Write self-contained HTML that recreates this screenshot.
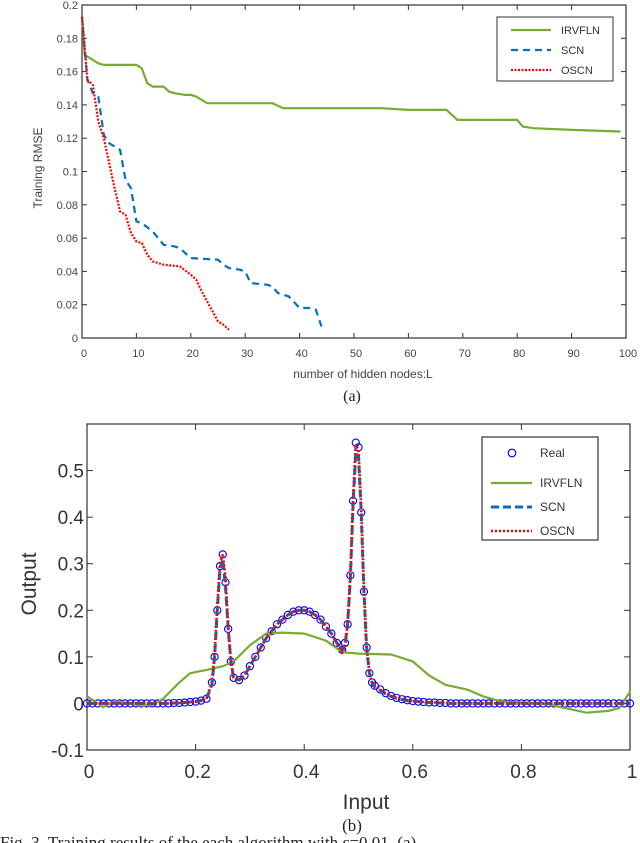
<!DOCTYPE html>
<html><head><meta charset="utf-8"><style>
body{margin:0;background:#fff;width:640px;height:843px;overflow:hidden;font-family:"Liberation Sans",sans-serif}
svg{position:absolute;left:0;top:0}
</style></head><body>
<svg id="c" width="640" height="843" xmlns="http://www.w3.org/2000/svg"></svg>
<script>
// ---- chart (a) data ----
const irvX=[0,0.5,2,3,4,10,11,12,13,15,16,17,19,20,21,23,35,37,55,60,67,68,69,80,81,83,90,99];
const irvY=[0.193,0.17,0.167,0.165,0.164,0.164,0.162,0.153,0.151,0.151,0.148,0.147,0.146,0.146,0.145,0.141,0.141,0.138,0.138,0.137,0.137,0.134,0.131,0.131,0.127,0.126,0.125,0.124];
const scnX=[0,1,2,3,4,5,6,7,8,9,10,11,13,15,17,18,20,25,26,27,29,30,31,34,35,36,38,40,42,43,44];
const scnY=[0.193,0.155,0.147,0.145,0.122,0.117,0.115,0.113,0.095,0.09,0.07,0.069,0.064,0.056,0.055,0.054,0.048,0.047,0.044,0.042,0.041,0.04,0.033,0.032,0.031,0.027,0.025,0.018,0.018,0.017,0.007];
const oscnX=[0,1,2,3,4,5,6,7,8,9,10,11,12,13,15,18,20,21,22,23,24,25,26,27];
const oscnY=[0.193,0.155,0.152,0.13,0.12,0.105,0.09,0.076,0.074,0.063,0.058,0.057,0.05,0.046,0.044,0.043,0.038,0.035,0.028,0.022,0.016,0.01,0.008,0.005];
const aXTicks=[0,10,20,30,40,50,60,70,80,90,100];
const aYTicks=[0,0.02,0.04,0.06,0.08,0.1,0.12,0.14,0.16,0.18,0.2];
// ---- chart (b) data ----
const realX=[0,0.01,0.02,0.03,0.04,0.05,0.06,0.07,0.08,0.09,0.1,0.11,0.12,0.13,0.14,0.15,0.16,0.17,0.18,0.19,0.2,0.21,0.22,0.23,0.235,0.24,0.245,0.25,0.255,0.26,0.265,0.27,0.28,0.29,0.3,0.31,0.32,0.33,0.34,0.35,0.36,0.37,0.38,0.39,0.4,0.41,0.42,0.43,0.44,0.45,0.46,0.47,0.475,0.48,0.485,0.49,0.495,0.5,0.505,0.51,0.515,0.52,0.525,0.53,0.54,0.55,0.56,0.57,0.58,0.59,0.6,0.61,0.62,0.63,0.64,0.65,0.66,0.67,0.68,0.69,0.7,0.71,0.72,0.73,0.74,0.75,0.76,0.77,0.78,0.79,0.8,0.81,0.82,0.83,0.84,0.85,0.86,0.87,0.88,0.89,0.9,0.91,0.92,0.93,0.94,0.95,0.96,0.97,0.98,0.99,1];
const realY=[0,0,0,0,0,0,0,0,0,0,0,0,0,0,0,0,0.001,0.001,0.002,0.003,0.004,0.006,0.01,0.045,0.1,0.2,0.295,0.32,0.26,0.16,0.09,0.055,0.05,0.06,0.08,0.1,0.12,0.14,0.155,0.17,0.18,0.19,0.197,0.2,0.2,0.197,0.19,0.18,0.165,0.15,0.13,0.115,0.13,0.17,0.275,0.435,0.56,0.55,0.41,0.24,0.12,0.065,0.045,0.038,0.03,0.022,0.016,0.012,0.009,0.007,0.005,0.004,0.003,0.002,0.002,0.001,0.001,0,0,0,0,0,0,0,0,0,0,0,0,0,0,0,0,0,0,0,0,0,0,0,0,0,0,0,0,0,0,0,0,0,0];
const scnYb=[0,0,0,0,0,0,0,0,0,0,0,0,0,0,0,0,0.001,0.001,0.002,0.003,0.004,0.006,0.01,0.04,0.1,0.2,0.29,0.31,0.25,0.16,0.09,0.055,0.05,0.06,0.08,0.1,0.12,0.14,0.155,0.17,0.18,0.19,0.197,0.2,0.2,0.197,0.19,0.18,0.165,0.15,0.13,0.115,0.125,0.17,0.27,0.43,0.54,0.53,0.41,0.24,0.12,0.065,0.045,0.035,0.028,0.02,0.015,0.011,0.008,0.006,0.005,0.004,0.003,0.002,0.002,0.001,0.001,0,0,0,0,0,0,0,0,0,0,0,0,0,0,0,0,0,0,0,0,0,0,0,0,0,0,0,0,0,0,0,0,0,0];
const oscnYb=[0,0,0,0,0,0,0,0,0,0,0,0,0,0,0,0,0.001,0.001,0.002,0.003,0.004,0.006,0.01,0.045,0.11,0.21,0.3,0.32,0.27,0.165,0.09,0.055,0.05,0.06,0.08,0.1,0.12,0.14,0.155,0.17,0.18,0.19,0.197,0.2,0.2,0.197,0.19,0.18,0.165,0.15,0.13,0.11,0.12,0.17,0.28,0.44,0.555,0.545,0.42,0.25,0.12,0.065,0.045,0.038,0.03,0.022,0.016,0.012,0.009,0.007,0.005,0.004,0.003,0.002,0.002,0.001,0.001,0,0,0,0,0,0,0,0,0,0,0,0,0,0,0,0,0,0,0,0,0,0,0,0,0,0,0,0,0,0,0,0,0,0];
const irvXb=[0,0.02,0.03,0.05,0.08,0.1,0.12,0.14,0.17,0.19,0.22,0.25,0.27,0.3,0.33,0.36,0.4,0.44,0.47,0.5,0.56,0.6,0.63,0.66,0.7,0.73,0.76,0.8,0.85,0.88,0.92,0.96,0.98,1];
const irvYb=[0.015,0,-0.008,0.005,0,-0.005,-0.003,0.01,0.045,0.065,0.072,0.08,0.09,0.125,0.15,0.152,0.15,0.135,0.11,0.107,0.105,0.09,0.06,0.04,0.03,0.015,0.005,0.002,-0.002,-0.01,-0.02,-0.016,-0.01,0.025];
const bXTicks=[0,0.2,0.4,0.6,0.8,1];
const bYTicks=[-0.1,0,0.1,0.2,0.3,0.4,0.5];

const svg=document.getElementById('c');const NS='http://www.w3.org/2000/svg';
function mk(t,a,txt){const e=document.createElementNS(NS,t);for(const k in a)e.setAttribute(k,a[k]);if(txt!==undefined)e.textContent=txt;svg.appendChild(e);return e;}
function lin(d0,d1,r0,r1){return v=>r0+(v-d0)/(d1-d0)*(r1-r0);}

// ===== chart (a) =====
const ax=lin(0,100,82,626), ay=lin(0,0.2,338,5);
function pathA(xs,ys,sx,sy){return xs.map((x,i)=>(i?'L':'M')+sx(x).toFixed(1)+','+sy(ys[i]).toFixed(1)).join('');}
let e;
e=mk('rect',{x:82,y:5,width:544,height:333,fill:'none',stroke:'#333','stroke-width':1.2});

aXTicks.forEach(t=>{const x=ax(t);mk('line',{x1:x,y1:338,x2:x,y2:333,stroke:'#333'});mk('line',{x1:x,y1:5,x2:x,y2:10,stroke:'#333'});
 e=mk('text',{x:x+2,y:357,'font-size':11,fill:'#444','text-anchor':'middle'},t);});
aYTicks.forEach(t=>{const y=ay(t);mk('line',{x1:82,y1:y,x2:87,y2:y,stroke:'#333'});mk('line',{x1:626,y1:y,x2:621,y2:y,stroke:'#333'});
 e=mk('text',{x:78,y:y+4,'font-size':11,fill:'#444','text-anchor':'end'},String(t));});
e=mk('text',{x:0,y:0,'font-size':12,fill:'#444','text-anchor':'middle',transform:'translate(42,168) rotate(-90)'},'Training RMSE');
e=mk('text',{x:363,y:378,'font-size':12,fill:'#444','text-anchor':'middle'},'number of hidden nodes:L');
e=mk('text',{x:352,y:401,'font-size':16,fill:'#222','text-anchor':'middle','font-family':'Liberation Serif, serif'},'(a)');
e=mk('path',{d:pathA(irvX,irvY,ax,ay),fill:'none',stroke:'#77ac30','stroke-width':2.2});
e=mk('path',{d:pathA(scnX,scnY,ax,ay),fill:'none',stroke:'#0072bd','stroke-width':2.2,'stroke-dasharray':'7,5'});
e=mk('path',{d:pathA(oscnX,oscnY,ax,ay),fill:'none',stroke:'#ff0000','stroke-width':2.2,'stroke-dasharray':'2,1.5'});
e=mk('rect',{x:497,y:17,width:116,height:64,fill:'#fff',stroke:'#333'});
[['IRVFLN','#77ac30','none'],['SCN','#0072bd','7,5'],['OSCN','#ff0000','2,1.5']].forEach((l,i)=>{const y=30+i*20;
 mk('line',{x1:511,y1:y,x2:551,y2:y,stroke:l[1],'stroke-width':2.2,'stroke-dasharray':l[2]});
 e=mk('text',{x:561,y:y+4,'font-size':11,fill:'#333'},l[0]);});

// ===== chart (b) =====
const bx=lin(0,1,87,630), by=lin(-0.1,0.6,750,424);
e=mk('rect',{x:87,y:424,width:543,height:326,fill:'none',stroke:'#333','stroke-width':1.2});
bXTicks.forEach(t=>{const x=bx(t);mk('line',{x1:x,y1:750,x2:x,y2:744,stroke:'#333'});mk('line',{x1:x,y1:424,x2:x,y2:430,stroke:'#333'});
 e=mk('text',{x:x+2,y:778,'font-size':19,fill:'#333','text-anchor':'middle'},String(t));});
bYTicks.forEach(t=>{const y=by(t);mk('line',{x1:87,y1:y,x2:93,y2:y,stroke:'#333'});mk('line',{x1:630,y1:y,x2:624,y2:y,stroke:'#333'});
 e=mk('text',{x:84,y:y+7,'font-size':19,fill:'#333','text-anchor':'end'},String(t));});
e=mk('text',{x:0,y:0,'font-size':21,fill:'#333','text-anchor':'middle',transform:'translate(36,584) rotate(-90)'},'Output');
e=mk('text',{x:366,y:809,'font-size':21,fill:'#333','text-anchor':'middle'},'Input');
e=mk('text',{x:352,y:831,'font-size':17,fill:'#222','text-anchor':'middle','font-family':'Liberation Serif, serif'},'(b)');
e=mk('text',{x:0,y:848,'font-size':17,fill:'#222','font-family':'Liberation Serif, serif'},'Fig. 3.   Training results of the each algorithm with ε=0.01. (a)');
const g=mk('g',{});
realX.forEach((x,i)=>{const c=document.createElementNS(NS,'circle');c.setAttribute('cx',bx(x));c.setAttribute('cy',by(realY[i]));c.setAttribute('r',3.6);c.setAttribute('fill','none');c.setAttribute('stroke','#0000ff');c.setAttribute('stroke-width',1.1);
 
 
 g.appendChild(c);});
e=mk('path',{d:pathA(irvXb,irvYb,bx,by),fill:'none',stroke:'#77ac30','stroke-width':2.2});
e=mk('path',{d:pathA(realX,scnYb,bx,by),fill:'none',stroke:'#0072bd','stroke-width':3,'stroke-dasharray':'8,4'});
e=mk('path',{d:pathA(realX,oscnYb,bx,by),fill:'none',stroke:'#ff0000','stroke-width':2.6,'stroke-dasharray':'2,2'});
e=mk('rect',{x:482,y:437,width:116,height:103,fill:'#fff',stroke:'#333','stroke-width':1.2});
e=mk('circle',{cx:512,cy:453,r:3.8,fill:'none',stroke:'#0000ff','stroke-width':1.1});
e=mk('text',{x:540,y:457,'font-size':12,fill:'#333'},'Real');
[['IRVFLN','#77ac30','none',2.2],['SCN','#0072bd','8,4',3],['OSCN','#ff0000','2,2',2.6]].forEach((l,i)=>{const y=483+i*24;
 mk('line',{x1:491,y1:y,x2:532,y2:y,stroke:l[1],'stroke-width':l[3],'stroke-dasharray':l[2]});
 e=mk('text',{x:540,y:y+4,'font-size':12,fill:'#333'},l[0]);});
</script>
</body></html>
